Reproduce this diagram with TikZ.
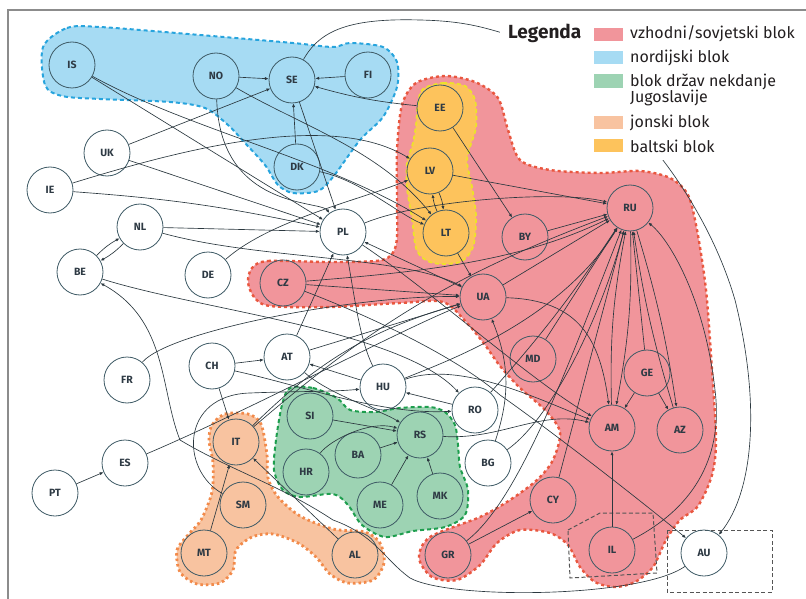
\documentclass[tikz,border=0pt]{standalone}
\usepackage{fontspec}
\setmainfont{Fira Sans}
\usetikzlibrary{arrows.meta}

\definecolor{eastfill}{HTML}{F1959B}
\definecolor{eastline}{HTML}{E9573F}
\definecolor{nordfill}{HTML}{A6DBF3}
\definecolor{nordline}{HTML}{27A4DD}
\definecolor{yugofill}{HTML}{9DD3B3}
\definecolor{yugoline}{HTML}{1E9E4E}
\definecolor{ionfill}{HTML}{F8C3A0}
\definecolor{ionline}{HTML}{F28A4A}
\definecolor{baltfill}{HTML}{FDC35C}
\definecolor{baltline}{HTML}{EDE22A}
\definecolor{ringcol}{HTML}{3F5B66}
\definecolor{labelcol}{HTML}{2E3A44}
\definecolor{linecol}{HTML}{2B383F}
\definecolor{legcol}{HTML}{231F20}
\definecolor{boxcol}{HTML}{555555}
\definecolor{framecol}{HTML}{8C8C8C}

\tikzset{
  land/.style={circle,draw=ringcol,line width=0.8pt,minimum size=46pt,inner sep=0pt,
    font=\fontsize{10.5}{10.5}\selectfont\bfseries,text=labelcol},
  vote/.style={draw=linecol,line width=0.65pt,-{Latex[length=3.8pt,width=3.2pt]}},
  blokline/.style={line width=2pt,dash pattern=on 4pt off 3pt},
  ilbox/.style={draw=boxcol,line width=1pt,dash pattern=on 4pt off 2.5pt},
  swatch/.style={minimum width=29pt,minimum height=13.5pt,inner sep=0pt},
  legtext/.style={anchor=west,inner sep=0pt,text=legcol,font=\fontsize{16}{16}\selectfont},
}

\begin{document}
\begin{tikzpicture}[x=1pt,y=-1pt]
\useasboundingbox (0,0) rectangle (806,599);

% bloki
\draw[blokline,draw=eastline,line width=2.4pt,dash pattern=on 3pt off 3pt,fill=eastfill]
  plot[smooth cycle,tension=0.5] coordinates {(252,268) (268,261) (330,262) (382,260) (396,245)
  (397,200) (397,150) (402,105) (416,83) (445,76) (475,82) (498,98) (508,130) (520,160)
  (550,170) (600,173) (640,171) (670,178) (688,195) (697,230) (706,290) (712,370) (716,440)
  (712,475) (698,506) (680,520) (666,540) (653,567) (635,582) (615,587) (595,582) (580,567)
  (568,545) (550,533) (520,530) (497,543) (480,565) (457,580) (432,577) (419,558) (430,537)
  (480,517) (510,500) (537,480) (553,460) (560,432) (545,410) (520,388) (500,366) (485,345)
  (467,323) (443,302) (400,303) (330,307) (270,306) (254,297) (248,282)};
\draw[blokline,draw=nordline,fill=nordfill]
  plot[smooth cycle,tension=0.5] coordinates {(43,47) (67,28) (100,27) (200,35) (293,43)
  (333,47) (350,43) (383,47) (397,62) (397,87) (383,117) (360,140) (333,177) (318,191)
  (293,193) (278,185) (265,165) (245,143) (228,125) (205,108) (170,102) (100,99) (62,96) (45,85)};
\draw[blokline,draw=yugoline,fill=yugofill]
  plot[smooth cycle,tension=0.5] coordinates {(290,388) (313,388) (337,398) (350,410) (375,412)
  (400,408) (430,407) (445,412) (455,425) (458,445) (460,467) (468,490) (465,515) (445,527)
  (413,531) (385,537) (362,525) (348,505) (333,494) (300,497) (283,490) (274,470) (276,440) (282,405)};
\draw[blokline,draw=ionline,line width=2.8pt,dash pattern=on 2.5pt off 3pt,fill=ionfill]
  plot[smooth cycle,tension=0.5] coordinates {(212,425) (225,414) (248,414) (261,424) (267,455)
  (268,478) (278,497) (300,516) (333,529) (365,532) (380,543) (384,563) (373,580) (348,583)
  (330,574) (316,557) (298,543) (273,534) (252,537) (236,550) (233,570) (220,583) (197,584)
  (180,572) (177,550) (188,535) (201,520) (212,492) (213,463) (209,440)};
\draw[blokline,draw=baltline,line width=1.8pt,fill=baltfill]
  plot[smooth cycle,tension=0.5] coordinates {(423,89) (443,83) (465,86) (475,100) (476,127)
  (470,147) (467,162) (472,187) (476,217) (473,247) (460,262) (433,263) (417,251) (412,218)
  (407,188) (407,163) (413,143) (416,125) (418,103)};

\draw[ilbox] (568,530) -- (600,513) -- (653,513) -- (657,573) -- (570,578) -- cycle;
\draw[ilbox] (667,530) rectangle (772,592);

% drzave
\foreach \n/\x/\y in {IS/72/65, NO/216/76, SE/292/80, FI/368/75, UK/107/153, DK/297/167,
  IE/50/190, NL/140/227, PL/343/232, DE/208/275, BE/80/272, CZ/283/283, EE/440/108,
  LV/430/171, LT/446/233, BY/525/237, RU/630/208, UA/483/297, MD/533/359, GE/647/373,
  AM/612/428, AZ/680/430, FR/127/380, CH/212/366, AT/287/357, HU/383/387, RO/475/410,
  BG/488/463, SI/310/416, RS/420/435, BA/358/455, HR/306/472, ME/380/505, MK/440/496,
  IT/236/442, SM/243/505, MT/204/553, AL/355/555, ES/125/463, PT/55/493, CY/553/500,
  GR/448/555, IL/612/550, AU/704/553}
  \node[land] (\n) at (\x,\y) {\n};

% glasovi
\foreach \a/\b in {NO/SE, FI/SE, DK/SE, UK/SE, SE/PL, IS/PL, UK/PL, NL/PL, PT/ES, CH/AT,
  CH/IT, AT/PL, AT/UA, HU/AT, RO/HU, MT/IT, AL/IT, SI/RS, BA/RS, ME/RS, MK/RS, EE/BY,
  LV/RU, BY/RU, UA/RU, UA/PL, LT/UA, CZ/UA, MD/RU, GE/RU, GE/AM, GE/AZ, IL/AM, GR/CY, CY/RU}
  \draw[vote] (\a) -- (\b);

\draw[vote] (EE) to[bend left=5] (SE);
\draw[vote] (IE) to[bend left=4] (PL);
\draw[vote] (NL) to[bend left=8] (BE);
\draw[vote] (BE) to[bend left=8] (NL);
\draw[vote] (LV) to[bend left=8] (LT);
\draw[vote] (LT) to[bend left=8] (LV);
\draw[vote] (RU) to[bend left=6] (AM);
\draw[vote] (AM) to[bend left=6] (RU);
\draw[vote] (RU) to[bend left=4] (AZ);
\draw[vote] (AZ) to[bend left=4] (RU);
\draw[vote] (IT) to[bend left=14] (UA);
\draw[vote] (IT) to[bend left=10] (RU);
\draw[vote] (RO) to[bend right=4] (RU);
\draw[vote] (BG) to[bend right=20] (UA);

\draw[vote] (NO) .. controls (220,210) and (320,200) .. (PL);
\draw[vote] (IS) .. controls (190,130) and (330,160) .. (LT);
\draw[vote] (IE) .. controls (180,150) and (330,110) .. (LV);
\draw[vote] (NO) .. controls (300,125) and (380,150) .. (LT);
\draw[vote] (DK) .. controls (360,180) and (400,215) .. (LT);
\draw[vote] (DE) .. controls (270,220) and (360,200) .. (LV);
\draw[vote] (PL) .. controls (420,200) and (560,190) .. (RU);
\draw[vote] (NL) .. controls (260,260) and (400,255) .. (UA);
\draw[vote] (BE) .. controls (200,310) and (400,330) .. (RO);
\draw[vote] (FR) .. controls (170,330) and (360,295) .. (UA);
\draw[vote] (ES) .. controls (250,410) and (400,330) .. (UA);
\draw[vote] (CZ) .. controls (420,272) and (520,262) .. (RU);
\draw[vote] (HU) .. controls (360,340) and (355,300) .. (PL);
\draw[vote] (HU) .. controls (450,360) and (560,320) .. (RU);
\draw[vote] (HU) .. controls (460,360) and (540,400) .. (AM);
\draw[vote] (PL) .. controls (430,290) and (530,380) .. (AM);
\draw[vote] (UA) .. controls (580,300) and (600,340) .. (AM);
\draw[vote] (RS) .. controls (500,440) and (540,410) .. (AM);
\draw[vote] (BG) .. controls (550,420) and (600,320) .. (RU);
\draw[vote] (GR) .. controls (520,500) and (570,360) .. (RU);
\draw[vote] (CH) .. controls (300,385) and (380,415) .. (RO);
\draw[vote] (AT) .. controls (330,395) and (380,410) .. (RS);
\draw[vote] (HR) .. controls (330,440) and (370,420) .. (RS);
\draw[vote] (SM) .. controls (180,470) and (180,395) .. (250,393)
  .. controls (300,391) and (330,392) .. (HU);
\draw[vote] (CZ) .. controls (380,320) and (460,360) .. (500,395)
  .. controls (550,430) and (640,500) .. (AU);
\draw[vote] (IL) .. controls (680,515) and (725,470) .. (715,390)
  .. controls (705,300) and (670,240) .. (RU);
\draw[vote] (AU) .. controls (640,598) and (450,600) .. (410,578)
  .. controls (385,560) and (375,535) .. (333,520)
  .. controls (280,485) and (230,470) .. (180,440)
  .. controls (160,390) and (168,320) .. (BE);
\draw[vote] (SE) .. controls (320,30) and (350,18) .. (420,20)
  .. controls (470,21) and (490,30) .. (510,35)
  .. controls (600,70) and (700,180) .. (735,300)
  .. controls (760,400) and (755,490) .. (AU);

% legenda
\fill[white] (500,14) -- (806,14) -- (806,160) -- (585,160) -- (585,90) -- (500,90) -- cycle;
\node[anchor=west,inner sep=0pt,text=legcol,font=\fontsize{19}{19}\selectfont\bfseries] (leg) at (508,33) {Legenda};
\node[swatch,fill=eastfill] (sw1) at (608.5,34.5) {};
\node[swatch,fill=nordfill] (sw2) at (608.5,57.5) {};
\node[swatch,fill=yugofill] (sw3) at (608.5,81) {};
\node[swatch,fill=ionfill]  (sw4) at (608.5,122.5) {};
\node[swatch,fill=baltfill] (sw5) at (608.5,145.5) {};
\node[legtext] (lt1) at (630,34) {vzhodni/sovjetski blok};
\node[legtext] (lt2) at (630,58) {nordijski blok};
\node[legtext] (lt3) at (630,81.5) {blok držav nekdanje};
\node[legtext] (lt3b) at (630,98) {Jugoslavije};
\node[legtext] (lt4) at (630,123) {jonski blok};
\node[legtext] (lt5) at (630,146) {baltski blok};

\draw[framecol,line width=1.3pt] (8,599) -- (8,10) -- (806,10);
\end{tikzpicture}
\end{document}
